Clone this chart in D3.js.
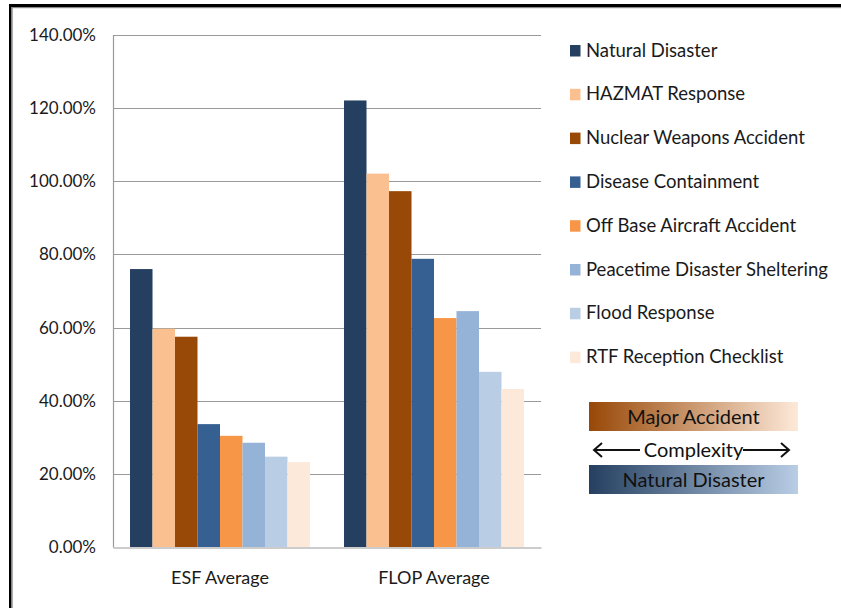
<!DOCTYPE html>
<html>
<head>
<meta charset="utf-8">
<script src="https://cdn.jsdelivr.net/npm/d3@7"></script>
<style>
  html, body { margin: 0; padding: 0; background: #fff; }
  svg { display: block; font-family: Lato, "Open Sans", sans-serif; }
</style>
</head>
<body>
<svg id="chart" width="841" height="608"></svg>
<script>
// Groups on the x axis
const categories = ["ESF Average", "FLOP Average"];

// Scenario series (percent values per group)
const seriesNames = [
  "Natural Disaster",
  "HAZMAT Response",
  "Nuclear Weapons Accident",
  "Disease Containment",
  "Off Base Aircraft Accident",
  "Peacetime Disaster Sheltering",
  "Flood Response",
  "RTF Reception Checklist"
];
const esfValues  = [76.0, 59.7, 57.5, 33.6, 30.4, 28.5, 24.7, 23.2];
const flopValues = [122.1, 102.1, 97.3, 78.8, 62.6, 64.5, 47.9, 43.2];

const seriesColors = ["#243F60", "#FAC090", "#984807", "#366092",
                      "#F79646", "#95B3D7", "#B9CDE5", "#FDE9D9"];

const yTicks = [0, 20, 40, 60, 80, 100, 120, 140];

const svg = d3.select("#chart");

// frame lines along the top and left edges
svg.append("rect").attr("x", 9).attr("y", 4).attr("width", 832).attr("height", 3).attr("fill", "#000");
svg.append("rect").attr("x", 9).attr("y", 4).attr("width", 2.5).attr("height", 604).attr("fill", "#000");
svg.append("rect").attr("x", 11.5).attr("y", 7).attr("width", 829.5).attr("height", 1.2).attr("fill", "#8a8a8a");
svg.append("rect").attr("x", 11.5).attr("y", 7).attr("width", 1.2).attr("height", 601).attr("fill", "#8a8a8a");

const plot = { left: 113, right: 541, top: 35, bottom: 547 };

const y = d3.scaleLinear().domain([0, 140]).range([plot.bottom, plot.top]);
const x0 = d3.scaleBand().domain(categories).range([plot.left, plot.right])
  .paddingInner(0.159).paddingOuter(0.0795);
const x1 = d3.scaleBand().domain(seriesNames).range([0, x0.bandwidth()]);

// horizontal gridlines
svg.append("g").selectAll("line").data(yTicks.filter(t => t > 0)).join("line")
  .attr("x1", plot.left).attr("x2", plot.right)
  .attr("y1", d => Math.round(y(d)) + 0.5).attr("y2", d => Math.round(y(d)) + 0.5)
  .attr("stroke", "#9a9a9a").attr("stroke-width", 1.2);

// y axis labels
const yAxis = d3.axisLeft(y).tickValues(yTicks).tickSize(0).tickPadding(17)
  .tickFormat(d => d.toFixed(2) + "%");
const gy = svg.append("g").attr("transform", `translate(${plot.left},0)`).call(yAxis);
gy.select(".domain").attr("stroke", "#9a9a9a").attr("stroke-width", 1.2);
gy.selectAll("text").attr("font-size", 17).attr("fill", "#1a1a1a")
  .attr("font-family", "Lato, 'Open Sans', sans-serif");

// bars
const rows = categories.map((c, ci) => ({
  cat: c,
  vals: seriesNames.map((s, si) => ({ s, si, v: ci === 0 ? esfValues[si] : flopValues[si] }))
}));
svg.append("g").selectAll("g").data(rows).join("g")
  .attr("transform", d => `translate(${x0(d.cat)},0)`)
  .selectAll("rect").data(d => d.vals).join("rect")
  .attr("x", d => x1(d.s))
  .attr("width", x1.bandwidth())
  .attr("y", d => y(d.v))
  .attr("height", d => y(0) - y(d.v))
  .attr("fill", d => seriesColors[d.si]);

// x axis
const xAxis = d3.axisBottom(x0).tickSize(0).tickPadding(24);
const gx = svg.append("g").attr("transform", `translate(0,${plot.bottom + 0.5})`).call(xAxis);
gx.select(".domain").attr("stroke", "#9a9a9a").attr("stroke-width", 1.2);
gx.selectAll("text").attr("font-size", 18).attr("fill", "#1a1a1a")
  .attr("font-family", "Lato, 'Open Sans', sans-serif");

// legend
const legend = svg.append("g").attr("transform", "translate(570,45)");
const li = legend.selectAll("g").data(seriesNames).join("g")
  .attr("transform", (d, i) => `translate(0,${i * 43.8})`);
li.append("rect").attr("width", 10.5).attr("height", 11.5)
  .attr("fill", (d, i) => seriesColors[i]);
li.append("text").attr("x", 16).attr("y", 11.5).attr("font-size", 18.5).attr("fill", "#1a1a1a")
  .text(d => d);

// complexity key
const defs = svg.append("defs");
function grad(id, from, to) {
  const g = defs.append("linearGradient").attr("id", id);
  g.append("stop").attr("offset", "0%").attr("stop-color", from);
  g.append("stop").attr("offset", "100%").attr("stop-color", to);
}
grad("gradMajor", "#984807", "#FDE9D9");
grad("gradNatural", "#243F60", "#B9CDE5");

const key = svg.append("g");
const keyX = 589, keyW = 209, keyCx = keyX + keyW / 2;
key.append("rect").attr("x", keyX).attr("y", 402).attr("width", keyW).attr("height", 29)
  .attr("fill", "url(#gradMajor)");
key.append("text").attr("x", keyCx).attr("y", 424).attr("text-anchor", "middle")
  .attr("font-size", 20).attr("fill", "#111").text("Major Accident");

key.append("rect").attr("x", keyX).attr("y", 465).attr("width", keyW).attr("height", 29)
  .attr("fill", "url(#gradNatural)");
key.append("text").attr("x", keyCx).attr("y", 487).attr("text-anchor", "middle")
  .attr("font-size", 20).attr("fill", "#111").text("Natural Disaster");

key.append("text").attr("x", keyCx).attr("y", 457).attr("text-anchor", "middle")
  .attr("font-size", 20).attr("fill", "#111").text("Complexity");

// arrows either side of the label
const ay = 450;
key.append("path")
  .attr("d", `M640,${ay} L594,${ay} M602,${ay - 7} L594,${ay} L602,${ay + 7}`)
  .attr("stroke", "#111").attr("stroke-width", 2).attr("fill", "none");
key.append("path")
  .attr("d", `M743,${ay} L789,${ay} M781,${ay - 7} L789,${ay} L781,${ay + 7}`)
  .attr("stroke", "#111").attr("stroke-width", 2).attr("fill", "none");
</script>
</body>
</html>
